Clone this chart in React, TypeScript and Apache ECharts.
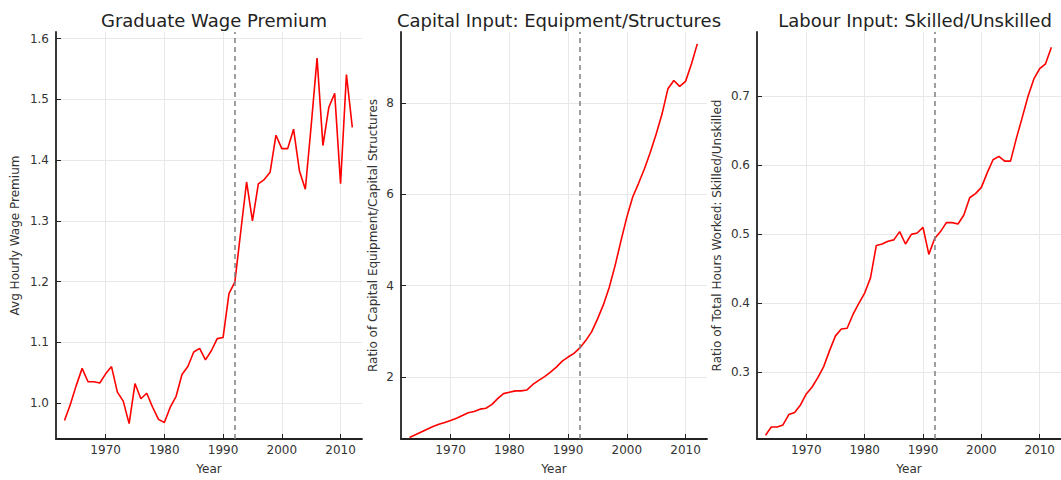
import React, { useEffect, useRef } from "react";
import * as echarts from "echarts";

const years = [
  1963, 1964, 1965, 1966, 1967, 1968, 1969, 1970, 1971, 1972,
  1973, 1974, 1975, 1976, 1977, 1978, 1979, 1980, 1981, 1982,
  1983, 1984, 1985, 1986, 1987, 1988, 1989, 1990, 1991, 1992,
  1993, 1994, 1995, 1996, 1997, 1998, 1999, 2000, 2001, 2002,
  2003, 2004, 2005, 2006, 2007, 2008, 2009, 2010, 2011, 2012,
];

const wagePremium = [
  0.971, 0.998, 1.029, 1.057, 1.035, 1.035, 1.033, 1.048, 1.06, 1.018,
  1.003, 0.966, 1.032, 1.007, 1.016, 0.993, 0.973, 0.968, 0.993, 1.011,
  1.047, 1.06, 1.084, 1.09, 1.071, 1.086, 1.106, 1.108, 1.18, 1.199,
  1.282, 1.364, 1.3, 1.361, 1.368, 1.38, 1.441, 1.419, 1.419, 1.451,
  1.382, 1.352, 1.457, 1.568, 1.424, 1.487, 1.51, 1.361, 1.541, 1.454,
];

const capitalRatio = [
  0.68, 0.74, 0.8, 0.86, 0.92, 0.97, 1.01, 1.05, 1.1, 1.16,
  1.22, 1.25, 1.3, 1.32, 1.4, 1.53, 1.64, 1.67, 1.7, 1.7,
  1.72, 1.84, 1.93, 2.01, 2.11, 2.22, 2.35, 2.44, 2.52, 2.64,
  2.8, 2.99, 3.27, 3.58, 3.96, 4.44, 4.98, 5.5, 5.94, 6.24,
  6.56, 6.92, 7.32, 7.76, 8.31, 8.49, 8.36, 8.47, 8.85, 9.29,
];

const labourRatio = [
  0.209, 0.221, 0.221, 0.224, 0.239, 0.242, 0.253, 0.269, 0.279, 0.293,
  0.309, 0.332, 0.353, 0.363, 0.364, 0.384, 0.4, 0.415, 0.437, 0.484,
  0.486, 0.49, 0.492, 0.504, 0.486, 0.5, 0.502, 0.51, 0.471, 0.494,
  0.504, 0.517, 0.517, 0.515, 0.528, 0.553, 0.559, 0.568, 0.589, 0.608,
  0.613, 0.606, 0.606, 0.639, 0.669, 0.7, 0.725, 0.74, 0.747, 0.771,
];

const xTicks = [1970, 1980, 1990, 2000, 2010];
const wageTicks = [1.0, 1.1, 1.2, 1.3, 1.4, 1.5, 1.6];
const capitalTicks = [2, 4, 6, 8];
const labourTicks = [0.3, 0.4, 0.5, 0.6, 0.7];
const breakYear = 1992;

const panelTitles = [
  "Graduate Wage Premium",
  "Capital Input: Equipment/Structures",
  "Labour Input: Skilled/Unskilled",
];
const yNames = [
  "Avg Hourly Wage Premium",
  "Ratio of Capital Equipment/Capital Structures",
  "Ratio of Total Hours Worked: Skilled/Unskilled",
];
const xName = "Year";

const FONT = "DejaVu Sans";
const AXIS_COLOR = "#222";
const TEXT_COLOR = "#333";
const GRID_COLOR = "#e8e8e8";

export default function App() {
  const ref = useRef<HTMLDivElement>(null);

  useEffect(() => {
    if (!ref.current) return;
    const chart = echarts.init(ref.current, null, { renderer: "svg" });

    const grids = [
      { left: 56, top: 32, width: 306, height: 410 },
      { left: 401, top: 32, width: 306, height: 410 },
      { left: 757, top: 32, width: 306, height: 410 },
    ];
    const yRanges = [
      [0.9407, 1.611],
      [0.647, 9.55],
      [0.2037, 0.793],
    ];
    const yTickSets = [wageTicks, capitalTicks, labourTicks];
    const yFormat = [
      (v: number) => v.toFixed(1),
      (v: number) => String(Math.round(v)),
      (v: number) => v.toFixed(1),
    ];
    const yNameGaps = [35, 22, 34];
    const seriesData = [wagePremium, capitalRatio, labourRatio];

    const axisLine = { show: true, lineStyle: { color: AXIS_COLOR, width: 1.8 } };
    const axisTickBase = { show: true, inside: true, length: 5, lineStyle: { color: AXIS_COLOR, width: 1 } };
    const splitLine = { show: true, lineStyle: { color: GRID_COLOR, width: 1 } };

    const option: any = {
      animation: false,
      backgroundColor: "#fff",
      textStyle: { fontFamily: FONT },
      title: panelTitles.map((t, i) => ({
        text: t,
        left: grids[i].left + grids[i].width / 2,
        top: 6,
        textAlign: "center",
        textStyle: { fontFamily: FONT, fontSize: 18, fontWeight: "normal", color: "#222" },
      })),
      grid: grids.map((g) => ({ ...g, containLabel: false })),
      xAxis: grids.map((_, i) => ({
        type: "value",
        gridIndex: i,
        min: 1961.55,
        max: 2013.65,
        name: xName,
        nameLocation: "middle",
        nameGap: 24,
        nameTextStyle: { fontFamily: FONT, fontSize: 12, color: TEXT_COLOR },
        axisLine,
        axisTick: { ...axisTickBase, customValues: xTicks },
        axisLabel: {
          customValues: xTicks,
          margin: 5,
          fontFamily: FONT,
          fontSize: 12,
          color: TEXT_COLOR,
          formatter: (v: number) => String(Math.round(v)),
        },
        splitLine,
      })),
      yAxis: grids.map((_, i) => ({
        type: "value",
        gridIndex: i,
        min: yRanges[i][0],
        max: yRanges[i][1],
        name: yNames[i],
        nameLocation: "middle",
        nameRotate: 90,
        nameGap: yNameGaps[i],
        nameTextStyle: { fontFamily: FONT, fontSize: 12, color: TEXT_COLOR },
        axisLine,
        axisTick: { ...axisTickBase, customValues: yTickSets[i] },
        axisLabel: {
          customValues: yTickSets[i],
          margin: 7,
          fontFamily: FONT,
          fontSize: 12,
          color: TEXT_COLOR,
          formatter: yFormat[i],
        },
        splitLine,
      })),
      series: seriesData.map((vals, i) => ({
        type: "line",
        xAxisIndex: i,
        yAxisIndex: i,
        data: years.map((y, k) => [y, vals[k]]),
        showSymbol: false,
        symbol: "none",
        lineStyle: { color: "#ff0000", width: 1.6 },
        itemStyle: { color: "#ff0000" },
        clip: true,
        markLine: {
          silent: true,
          symbol: "none",
          label: { show: false },
          lineStyle: { color: "#808080", type: [5, 4], width: 1.5 },
          data: [{ xAxis: breakYear }],
        },
      })),
    };

    chart.setOption(option);
    return () => chart.dispose();
  }, []);

  return (
    <div
      ref={ref}
      style={{ position: "fixed", left: 0, top: 0, width: 1061, height: 480, background: "#fff" }}
    />
  );
}
